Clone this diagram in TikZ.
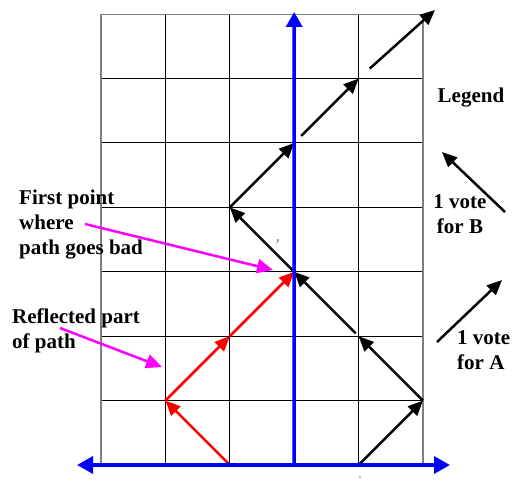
\documentclass[tikz,border=0pt]{standalone}
\usepackage{fontspec}
\setmainfont{Liberation Serif}
\usetikzlibrary{arrows.meta}
\definecolor{pureblue}{RGB}{0,0,255}
\definecolor{purered}{RGB}{255,0,0}
\definecolor{puremagenta}{RGB}{255,0,255}
\definecolor{gridgray}{RGB}{128,128,128}
\begin{document}
\begin{tikzpicture}[x=1pt,y=-1pt,
  lbl/.style={font=\fontsize{21}{25}\selectfont\bfseries, inner sep=0pt, align=left, anchor=north west},
  tiphead/.style={-{Triangle[length=15pt,width=13pt]}},
  votearrow/.style={tiphead, line width=2.5pt, black},
  redarrow/.style={tiphead, line width=2.5pt, purered},
  pointer/.style={-{Triangle[length=16pt,width=14pt]}, line width=2.5pt, puremagenta},
  axisline/.style={line width=3.5pt, pureblue},
  gridline/.style={line width=1pt, black},
  gridouter/.style={line width=1.3pt, gridgray},
  tinylbl/.style={font=\itshape\fontsize{6}{6}\selectfont, inner sep=0pt}
]
\useasboundingbox (0,0) rectangle (512,481);
% grid coordinates
\foreach \c in {0,...,5}
  \foreach \r in {0,...,7}
    \coordinate (g\c\r) at ({101+64.4*\c},{465-64.4*\r});
% grid
\foreach \c in {1,...,4} \draw[gridline] (g\c0) -- (g\c7);
\foreach \r in {1,...,6} \draw[gridline] (g0\r) -- (g5\r);
\draw[gridouter] (g00) rectangle (g57);
% black path
\draw[votearrow] (g40) -- (g51);
\draw[votearrow] (g51) -- (g42);
\draw[votearrow, shorten <=4pt] (g42) -- (g33);
\draw[votearrow] (g33) -- (g24);
\draw[votearrow] (g24) -- (g35);
\draw[votearrow, shorten <=10pt] (g35) -- (g46);
\coordinate (endtip) at (435,10);
\draw[votearrow, shorten <=15pt] (g46) -- (endtip);
% red reflected path
\draw[redarrow] (g20) -- (g11);
\draw[redarrow] (g11) -- (g22);
\draw[redarrow] (g22) -- (g33);
% axes
\coordinate (axL) at (77,465);
\coordinate (axR) at (450,465);
\coordinate (axT) at (294.2,12);
\draw[axisline, {Triangle[length=16pt,width=17pt]}-{Triangle[length=16pt,width=17pt]}] (axL) -- (axR);
\draw[axisline, -{Triangle[length=15pt,width=16pt]}] (g30) -- (axT);
% legend
\node[lbl] (legend) at (437.5,88) {Legend};
\coordinate (lbT) at (442,152);
\coordinate (lbS) at (505,212);
\draw[votearrow] (lbS) -- (lbT);
\node[lbl, align=center, anchor=north] (voteB) at (460,194) {1 vote\\for B};
\coordinate (laS) at (437,342);
\coordinate (laT) at (502,280);
\draw[votearrow] (laS) -- (laT);
\node[lbl] (voteA) at (457,330) {1 vote\\for A};
% annotations
\node[lbl] (firstpt) at (19,190) {First point\\where\\path goes bad};
\coordinate (fpS) at (85,224);
\coordinate (fpT) at (273,270);
\draw[pointer] (fpS) -- (fpT);
\node[lbl] (reflected) at (12,309) {Reflected part\\of path};
\coordinate (rpS) at (60,328);
\coordinate (rpT) at (162,367);
\draw[pointer] (rpS) -- (rpT);
% tiny axis labels
\node[tinylbl] (ylbl) at (278,242) {y};
\node[tinylbl, font=\itshape\fontsize{4}{4}\selectfont] (xlbl) at (360,478) {x};
\end{tikzpicture}
\end{document}
